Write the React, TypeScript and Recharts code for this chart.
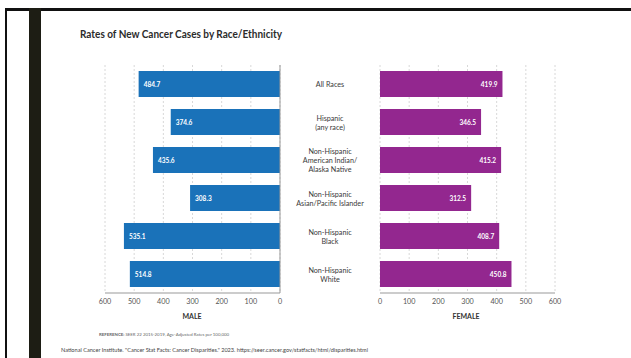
import React from 'react';
import { BarChart, Bar, XAxis, YAxis, CartesianGrid, LabelList } from 'recharts';

const categories = [
  'All Races',
  'Hispanic\n(any race)',
  'Non-Hispanic\nAmerican Indian/\nAlaska Native',
  'Non-Hispanic\nAsian/Pacific Islander',
  'Non-Hispanic\nBlack',
  'Non-Hispanic\nWhite',
];
const maleRates = [484.7, 374.6, 435.6, 308.3, 535.1, 514.8];
const femaleRates = [419.9, 346.5, 415.2, 312.5, 408.7, 450.8];
const axisTicks = [0, 100, 200, 300, 400, 500, 600];

const data = categories.map((c, i) => ({ category: c, male: maleRates[i], female: femaleRates[i] }));

const BLUE = '#1a72b9';
const PURPLE = '#93278f';
const FONT = 'Lato, "Open Sans", sans-serif';

const CategoryTick = (props: any) => {
  const { y, payload } = props;
  const lines = String(payload.value).split('\n');
  const lh = 9;
  const start = y - ((lines.length - 1) * lh) / 2;
  return (
    <text x={330} y={start} textAnchor="middle" dominantBaseline="central" fontSize={7.2} fill="#3a3a3a" fontFamily={FONT}>
      {lines.map((l, i) => (
        <tspan key={i} x={330} y={start + i * lh}>{l}</tspan>
      ))}
    </text>
  );
};

const makeLabel = (side: 'left' | 'right') => (props: any) => {
  const { x, y, width, height, value } = props;
  const left = Math.min(x, x + width);
  const right = Math.max(x, x + width);
  const tx = side === 'left' ? left + 5 : right - 5;
  return (
    <text x={tx} y={y + height / 2} textAnchor={side === 'left' ? 'start' : 'end'} dominantBaseline="central" fontSize={6.5} fontWeight={700} fill="#ffffff" fontFamily={FONT}>
      {Number(value).toFixed(1)}
    </text>
  );
};

const tickStyle = { fontSize: 7.2, fill: '#555', fontFamily: FONT };

export default function App() {
  return (
    <div style={{ position: 'fixed', left: 0, top: 0, width: 631, height: 358, background: '#fff', overflow: 'hidden' }}>
      <div style={{ position: 'absolute', left: 5, top: 8, width: 2, height: 350, background: '#111' }} />
      <div style={{ position: 'absolute', left: 5, top: 8, width: 626, height: 3, background: '#111' }} />
      <div style={{ position: 'absolute', left: 29, top: 8, width: 12, height: 350, background: '#1d1d14' }} />

      <div style={{ position: 'absolute', left: 0, top: 0 }}>
        <BarChart width={380} height={358} layout="vertical" data={data} margin={{ top: 65, right: 0, bottom: 45, left: 105 }} barSize={26}>
          <CartesianGrid horizontal={false} strokeDasharray="2 2" stroke="#d8d8d8" />
          <XAxis type="number" domain={[0, 600]} ticks={axisTicks} reversed tickLine={false} axisLine={{ stroke: '#999' }} tick={tickStyle} tickSize={4} height={20} interval={0} />
          <YAxis type="category" dataKey="category" orientation="right" width={100} tickLine={false} axisLine={{ stroke: '#999' }} tick={<CategoryTick />} interval={0} />
          <Bar dataKey="male" fill={BLUE} isAnimationActive={false}>
            <LabelList dataKey="male" content={makeLabel('left')} />
          </Bar>
        </BarChart>
      </div>

      <div style={{ position: 'absolute', left: 375, top: 0 }}>
        <BarChart width={240} height={358} layout="vertical" data={data} margin={{ top: 65, right: 60, bottom: 45, left: 5 }} barSize={26}>
          <CartesianGrid horizontal={false} strokeDasharray="2 2" stroke="#d8d8d8" />
          <XAxis type="number" domain={[0, 600]} ticks={axisTicks} tickLine={false} axisLine={{ stroke: '#999' }} tick={tickStyle} tickSize={4} height={20} interval={0} />
          <YAxis type="category" dataKey="category" width={0} tickLine={false} tick={false} axisLine={{ stroke: '#999' }} />
          <Bar dataKey="female" fill={PURPLE} isAnimationActive={false}>
            <LabelList dataKey="female" content={makeLabel('right')} />
          </Bar>
        </BarChart>
      </div>

      <svg width={631} height={358} style={{ position: 'absolute', left: 0, top: 0, pointerEvents: 'none' }}>
        <text x={80} y={38} fontSize={11.5} fontWeight={700} fill="#2b2b2b" fontFamily={FONT} textLength={202} lengthAdjust="spacingAndGlyphs">
          Rates of New Cancer Cases by Race/Ethnicity
        </text>
        <text x={192} y={316} textAnchor="middle" dominantBaseline="central" fontSize={7} fontWeight={700} fill="#333" fontFamily={FONT}>MALE</text>
        <text x={466} y={316} textAnchor="middle" dominantBaseline="central" fontSize={7} fontWeight={700} fill="#333" fontFamily={FONT}>FEMALE</text>
        <text x={99} y={334} dominantBaseline="central" fontSize={3.6} fill="#666" fontFamily={FONT} textLength={130} lengthAdjust="spacingAndGlyphs">
          <tspan fontWeight={700}>REFERENCE: </tspan>SEER 22 2015-2019, Age-Adjusted Rates per 100,000
        </text>
        <text x={61} y={350} dominantBaseline="central" fontSize={5} fill="#444" fontFamily={FONT} textLength={307} lengthAdjust="spacingAndGlyphs">
          National Cancer Institute. "Cancer Stat Facts: Cancer Disparities." 2023. https://seer.cancer.gov/statfacts/html/disparities.html
        </text>
      </svg>
    </div>
  );
}
